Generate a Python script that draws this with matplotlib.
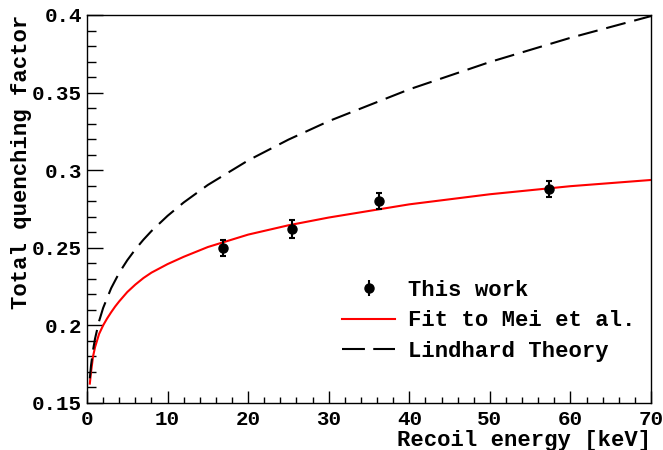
import numpy as np
import matplotlib
matplotlib.use("Agg")
import matplotlib.pyplot as plt
from matplotlib.lines import Line2D
from matplotlib.ticker import MultipleLocator

plt.rcParams['font.family'] = ['Liberation Mono', 'DejaVu Sans Mono']
plt.rcParams['font.weight'] = 'bold'
plt.rcParams['axes.labelweight'] = 'bold'

# measured points
energy = [16.9, 25.4, 36.2, 57.3]
qf = [0.250, 0.262, 0.280, 0.288]
qf_err = [0.005, 0.006, 0.005, 0.005]

# fit to Mei et al.
fit_e = [0.35, 0.5, 0.75, 1, 1.5, 2, 2.5, 3, 3.5, 4, 5, 6, 7, 8, 10, 12, 15, 20, 25, 30, 40, 50, 60, 70]
fit_q = [0.1625, 0.170, 0.180, 0.186, 0.1945, 0.200, 0.2045, 0.2085, 0.2122, 0.2155, 0.2215,
         0.2263, 0.2305, 0.2340, 0.2395, 0.2442, 0.2505, 0.2585, 0.2645, 0.2695, 0.278,
         0.2845, 0.2897, 0.2937]

# Lindhard theory
lind_e = [0.35, 0.5, 0.75, 1, 1.5, 2, 3, 4, 5, 6, 7, 8, 10, 12, 15, 20, 25, 30, 40, 50, 60, 70]
lind_q = [0.1659, 0.1742, 0.1841, 0.1915, 0.2027, 0.2112, 0.2240, 0.2339, 0.2420, 0.2490,
          0.2552, 0.2608, 0.2706, 0.2792, 0.2905, 0.3063, 0.3197, 0.3316, 0.3521, 0.3697,
          0.3853, 0.3993]

fig = plt.figure(figsize=(6.63, 4.5), dpi=100)
ax = fig.add_axes([87/663, 1 - 403/450, 564/663, 388/450])

ax.plot(fit_e, fit_q, color='#ff0000', lw=1.5)
ax.plot(lind_e, lind_q, color='black', lw=1.5, linestyle=(0, (9.6, 4.3)))
ax.errorbar(energy, qf, yerr=qf_err, fmt='o', color='black', ms=6.5,
            elinewidth=1.5, capsize=2.5, capthick=1.5)

ax.set_xlim(0, 70)
ax.set_ylim(0.15, 0.4)
ax.xaxis.set_major_locator(MultipleLocator(10))
ax.xaxis.set_minor_locator(MultipleLocator(2))
ax.yaxis.set_minor_locator(MultipleLocator(0.01))
ax.set_yticks(np.arange(0.15, 0.401, 0.05))
ax.set_yticklabels(['0.15', '0.2', '0.25', '0.3', '0.35', '0.4'])

ax.tick_params(axis='both', which='both', direction='in', top=False, right=False,
               labelsize=15, width=1)
ax.tick_params(axis='y', which='major', length=11.5, pad=3.5)
ax.tick_params(axis='y', which='minor', length=6.5)
ax.tick_params(axis='x', which='major', length=8.5, pad=5)
ax.tick_params(axis='x', which='minor', length=4.3)
for s in ax.spines.values():
    s.set_linewidth(1)

ax.set_xlabel('Recoil energy [keV]', fontsize=16, loc='right', labelpad=0.5)
ax.set_ylabel('Total quenching factor', fontsize=16, loc='top', labelpad=0)

h_data = (Line2D([], [], color='black', marker='|', ms=12, mew=1.5, ls='none'),
          Line2D([], [], color='black', marker='o', ms=6.5, ls='none'))
h_fit = Line2D([], [], color='#ff0000', lw=1.5)
h_lind = Line2D([], [], color='black', lw=1.5, linestyle=(0, (11, 4)))
ax.legend([h_data, h_fit, h_lind], ['This work', 'Fit to Mei et al.', 'Lindhard Theory'],
          loc='upper left', bbox_to_anchor=(255/564, 1 - 265/388), frameon=False,
          fontsize=16, handlelength=2.4, handletextpad=0.58, labelspacing=0.42,
          borderpad=0, borderaxespad=0)

fig.savefig('out.png', dpi=100)
